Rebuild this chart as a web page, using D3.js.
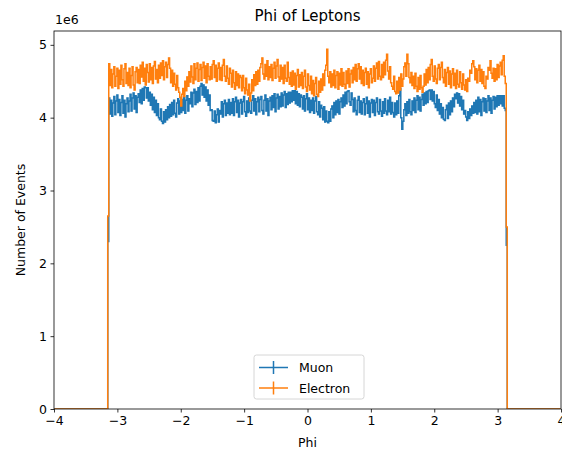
<!DOCTYPE html>
<html>
<head>
<meta charset="utf-8">
<script src="https://cdn.jsdelivr.net/npm/d3@7"></script>
<style>
  body { margin: 0; background: #fff; }
  text { font-family: "DejaVu Sans", sans-serif; fill: #000; }
</style>
</head>
<body>
<svg id="chart" width="562" height="453"></svg>
<script>
// ---- data (counts in units of 1e6), histogram of 500 bins over [-4, 4] ----
const binRange = [-4, 4];
const nBins = 500;
const seriesNames = ["Muon", "Electron"];
const xTicks = [-4, -3, -2, -1, 0, 1, 2, 3, 4];
const yTicks = [0, 1, 2, 3, 4, 5];

// empty bins outside [-pi, pi] (53 on each side)
const zeroBins = [
  0,0,0,0,0,0,0,0,0,0, 0,0,0,0,0,0,0,0,0,0, 0,0,0,0,0,0,0,0,0,0,
  0,0,0,0,0,0,0,0,0,0, 0,0,0,0,0,0,0,0,0,0, 0,0,0
];

const muonCore = [
  4.27, 4.05, 4.24, 4.02, 4.20, 4.29, 4.04, 4.23, 4.31, 4.07,
  4.25, 4.03, 4.21, 4.30, 4.06, 4.24, 4.01, 4.19, 4.27, 4.08,
  4.23, 4.32, 4.09, 4.27, 4.34, 4.12, 4.30, 4.07, 4.28, 4.33,
  4.21, 4.38, 4.19, 4.40, 4.24, 4.42, 4.41, 4.27, 4.41, 4.23,
  4.35, 4.17, 4.32, 4.11, 4.28, 4.07, 4.24, 4.03, 4.19, 4.00,
  3.97, 4.12, 3.95, 3.92, 4.08, 3.94, 4.11, 3.97, 4.15, 4.00,
  4.18, 4.02, 4.21, 4.04, 4.24, 4.06, 4.01, 4.20, 4.26, 4.05,
  4.23, 4.07, 4.25, 4.10, 4.28, 4.06, 4.24, 4.30, 4.09, 4.26,
  4.19, 4.35, 4.15, 4.34, 4.39, 4.18, 4.36, 4.21, 4.41, 4.23,
  4.43, 4.47, 4.31, 4.45, 4.28, 4.42, 4.23, 4.38, 4.17, 4.31,
  4.10, 4.11, 3.96, 3.95, 4.09, 3.93, 4.04, 4.12, 3.94, 4.10,
  4.05, 4.22, 4.01, 4.19, 4.24, 4.03, 4.20, 4.06, 4.25, 4.04,
  4.21, 4.06, 4.26, 4.03, 4.22, 4.28, 4.07, 4.24, 4.01, 4.20,
  4.25, 4.05, 4.22, 4.29, 4.08, 4.02, 4.23, 4.07, 4.27, 4.09,
  4.06, 4.24, 4.30, 4.09, 4.26, 4.04, 4.22, 4.28, 4.08, 4.25,
  4.29, 4.10, 4.05, 4.24, 4.31, 4.09, 4.26, 4.03, 4.23, 4.28,
  4.11, 4.30, 4.14, 4.33, 4.08, 4.27, 4.32, 4.12, 4.29, 4.15,
  4.34, 4.16, 4.31, 4.36, 4.14, 4.33, 4.18, 4.35, 4.20, 4.35,
  4.22, 4.37, 4.24, 4.37, 4.19, 4.36, 4.17, 4.33, 4.15, 4.31,
  4.28, 4.12, 4.30, 4.09, 4.26, 4.33, 4.11, 4.27, 4.07, 4.24,
  4.10, 4.27, 4.06, 4.23, 4.29, 4.08, 4.04, 4.22, 4.01, 4.17,
  4.13, 3.97, 4.15, 3.94, 4.09, 3.95, 3.93, 4.08, 3.95, 4.12,
  4.16, 4.00, 4.21, 4.04, 4.23, 4.07, 4.25, 4.05, 4.22, 4.27,
  4.14, 4.31, 4.16, 4.35, 4.19, 4.36, 4.37, 4.22, 4.17, 4.34,
  4.25, 4.08, 4.27, 4.10, 4.04, 4.24, 4.29, 4.07, 4.23, 4.05,
  4.21, 4.26, 4.04, 4.19, 4.28, 4.06, 4.23, 4.01, 4.20, 4.25,
  4.07, 4.24, 4.03, 4.21, 4.27, 4.08, 4.05, 4.25, 4.09, 4.02,
  4.22, 4.06, 4.26, 4.09, 4.04, 4.24, 4.08, 4.28, 4.05, 4.21,
  4.07, 4.01, 4.20, 4.04, 4.23, 4.06, 4.30, 4.40, 4.00, 3.84,
  3.95, 4.11, 4.19, 4.03, 4.22, 4.06, 4.25, 4.08, 4.04, 4.23,
  4.10, 4.27, 4.07, 4.24, 4.30, 4.11, 4.28, 4.09, 4.25, 4.32,
  4.17, 4.34, 4.19, 4.36, 4.21, 4.37, 4.38, 4.25, 4.38, 4.23,
  4.36, 4.19, 4.14, 4.31, 4.10, 4.25, 4.05, 4.19, 4.00, 4.14,
  3.98, 3.96, 4.11, 4.17, 3.99, 4.20, 4.04, 4.23, 4.08, 4.27,
  4.15, 4.32, 4.26, 4.34, 4.20, 4.33, 4.16, 4.29, 4.11, 4.24,
  4.05, 4.10, 4.01, 3.96, 4.08, 3.99, 4.12, 4.03, 4.16, 4.06,
  4.21, 4.07, 4.24, 4.05, 4.28, 4.08, 4.25, 4.03, 4.22, 4.27,
  4.09, 4.26, 4.07, 4.23, 4.30, 4.10, 4.27, 4.06, 4.24, 4.29,
  4.12, 4.28, 4.15, 4.30, 4.17, 4.30, 4.19, 4.30, 4.16, 4.30,
  4.13, 4.10
];
const muonEdge = [2.30, 2.25];

const electronCore = [
  4.74, 4.44, 4.66, 4.41, 4.60, 4.70, 4.43, 4.57, 4.68, 4.40,
  4.65, 4.46, 4.72, 4.52, 4.43, 4.67, 4.74, 4.47, 4.62, 4.44,
  4.68, 4.41, 4.58, 4.70, 4.45, 4.38, 4.63, 4.69, 4.48, 4.66,
  4.47, 4.72, 4.56, 4.76, 4.50, 4.68, 4.45, 4.73, 4.62, 4.49,
  4.74, 4.52, 4.69, 4.47, 4.71, 4.77, 4.53, 4.66, 4.48, 4.72,
  4.54, 4.75, 4.58, 4.78, 4.52, 4.70, 4.76, 4.55, 4.73, 4.82,
  4.68, 4.48, 4.65, 4.43, 4.61, 4.46, 4.38, 4.58, 4.41, 4.35,
  4.28, 4.16, 4.32, 4.40, 4.29, 4.50, 4.37, 4.56, 4.43, 4.63,
  4.49, 4.71, 4.56, 4.47, 4.74, 4.52, 4.68, 4.75, 4.50, 4.66,
  4.73, 4.51, 4.69, 4.76, 4.54, 4.71, 4.48, 4.74, 4.57, 4.52,
  4.70, 4.53, 4.73, 4.78, 4.55, 4.72, 4.50, 4.68, 4.75, 4.52,
  4.69, 4.51, 4.72, 4.80, 4.57, 4.50, 4.71, 4.54, 4.46, 4.68,
  4.61, 4.42, 4.65, 4.48, 4.39, 4.63, 4.44, 4.60, 4.41, 4.58,
  4.55, 4.37, 4.58, 4.41, 4.33, 4.54, 4.38, 4.31, 4.46, 4.23,
  4.34, 4.52, 4.37, 4.59, 4.44, 4.63, 4.46, 4.65, 4.50, 4.69,
  4.74, 4.82, 4.60, 4.53, 4.73, 4.57, 4.78, 4.52, 4.70, 4.55,
  4.73, 4.51, 4.68, 4.76, 4.54, 4.71, 4.80, 4.56, 4.50, 4.72,
  4.53, 4.69, 4.47, 4.72, 4.54, 4.50, 4.76, 4.55, 4.46, 4.62,
  4.43, 4.64, 4.45, 4.61, 4.39, 4.58, 4.66, 4.42, 4.59, 4.44,
  4.62, 4.40, 4.57, 4.65, 4.42, 4.36, 4.60, 4.44, 4.38, 4.57,
  4.33, 4.51, 4.30, 4.47, 4.55, 4.32, 4.29, 4.50, 4.35, 4.53,
  4.38, 4.60, 4.44, 4.65, 4.72, 4.94, 4.57, 4.48, 4.63, 4.42,
  4.60, 4.44, 4.65, 4.41, 4.58, 4.63, 4.39, 4.61, 4.45, 4.67,
  4.43, 4.62, 4.46, 4.40, 4.64, 4.47, 4.67, 4.42, 4.60, 4.65,
  4.48, 4.69, 4.52, 4.73, 4.50, 4.67, 4.74, 4.53, 4.70, 4.47,
  4.65, 4.44, 4.62, 4.68, 4.46, 4.63, 4.41, 4.60, 4.67, 4.48,
  4.54, 4.71, 4.50, 4.68, 4.75, 4.53, 4.77, 4.57, 4.52, 4.73,
  4.55, 4.76, 4.59, 4.79, 4.87, 4.64, 4.53, 4.70, 4.48, 4.43,
  4.39, 4.57, 4.36, 4.33, 4.50, 4.34, 4.55, 4.38, 4.60, 4.43,
  4.53, 4.70, 4.75, 4.57, 4.87, 4.74, 4.55, 4.48, 4.62, 4.44,
  4.57, 4.40, 4.61, 4.43, 4.36, 4.55, 4.39, 4.58, 4.41, 4.35,
  4.43, 4.60, 4.45, 4.66, 4.48, 4.69, 4.52, 4.73, 4.80, 4.57,
  4.50, 4.71, 4.53, 4.47, 4.68, 4.73, 4.52, 4.69, 4.76, 4.55,
  4.48, 4.66, 4.43, 4.62, 4.69, 4.46, 4.64, 4.41, 4.60, 4.67,
  4.44, 4.61, 4.40, 4.65, 4.46, 4.42, 4.63, 4.48, 4.39, 4.60,
  4.45, 4.38, 4.52, 4.36, 4.54, 4.50, 4.65, 4.61, 4.74, 4.78,
  4.70, 4.52, 4.67, 4.48, 4.65, 4.72, 4.50, 4.66, 4.47, 4.63,
  4.43, 4.40, 4.57, 4.53, 4.69, 4.65, 4.78, 4.61, 4.54, 4.68,
  4.50, 4.67, 4.52, 4.73, 4.55, 4.71, 4.76, 4.59, 4.79, 4.85,
  4.57, 4.47
];
const electronEdge = [2.65, 2.50];

const muonCounts = [...zeroBins, muonEdge[0], ...muonCore, muonEdge[1], ...zeroBins];
const electronCounts = [...zeroBins, electronEdge[0], ...electronCore, electronEdge[1], ...zeroBins];

const colors = ["#1f77b4", "#ff7f0e"];

// ---- layout ----
const W = 562, H = 453;
const m = { left: 54, right: 1, top: 31, bottom: 44 };
const svg = d3.select("#chart");

const x = d3.scaleLinear().domain([-4, 4]).range([m.left, W - m.right]);
const y = d3.scaleLinear().domain([0, 5.19]).range([H - m.bottom, m.top]);

const binW = (binRange[1] - binRange[0]) / nBins;
const centers = d3.range(nBins).map(i => binRange[0] + binW * (i + 0.5));

svg.append("defs").append("clipPath").attr("id", "clip")
  .append("rect").attr("x", m.left).attr("y", m.top)
  .attr("width", W - m.left - m.right).attr("height", H - m.top - m.bottom);

const plot = svg.append("g").attr("clip-path", "url(#clip)");
const line = d3.line().x(d => x(d[0])).y(d => y(d[1])).curve(d3.curveStep);

[muonCounts, electronCounts].forEach((counts, si) => {
  const pts = counts.map((v, i) => [centers[i], v]);
  const g = plot.append("g");
  g.append("path").datum(pts).attr("d", line)
    .attr("fill", "none").attr("stroke", colors[si]).attr("stroke-width", 1.5)
    .attr("stroke-linejoin", "miter");
  // error bars: sqrt(N)
  g.selectAll("line.err").data(pts.filter(p => p[1] > 0)).join("line")
    .attr("x1", d => x(d[0])).attr("x2", d => x(d[0]))
    .attr("y1", d => y(d[1] - Math.sqrt(d[1] * 1e6) / 1e6))
    .attr("y2", d => y(d[1] + Math.sqrt(d[1] * 1e6) / 1e6))
    .attr("stroke", colors[si]).attr("stroke-width", 1.5);
});

// ---- axes ----
const xAxis = d3.axisBottom(x).tickValues(xTicks).tickSize(3.5).tickPadding(3.5)
  .tickFormat(d => d < 0 ? "\u2212" + Math.abs(d) : d);
const yAxis = d3.axisLeft(y).tickValues(yTicks).tickSize(3.5).tickPadding(3.5)
  .tickFormat(d3.format("d"));

const gx = svg.append("g").attr("transform", `translate(0,${H - m.bottom})`).call(xAxis);
const gy = svg.append("g").attr("transform", `translate(${m.left},0)`).call(yAxis);
[gx, gy].forEach(g => {
  g.select(".domain").remove();
  g.selectAll(".tick line").attr("stroke", "#000").attr("stroke-width", 0.8);
  g.selectAll(".tick text").attr("font-size", 12.5).attr("font-family", "DejaVu Sans");
});

// spines
svg.append("rect").attr("x", m.left).attr("y", m.top)
  .attr("width", W - m.left - m.right).attr("height", H - m.top - m.bottom)
  .attr("fill", "none").attr("stroke", "#000").attr("stroke-width", 0.8);

// texts
svg.append("text").attr("x", (m.left + W - m.right) / 2).attr("y", 21)
  .attr("text-anchor", "middle").attr("font-size", 15).text("Phi of Leptons");
svg.append("text").attr("x", m.left + 1).attr("y", 24)
  .attr("font-size", 12.5).text("1e6");
svg.append("text").attr("x", (m.left + W - m.right) / 2).attr("y", 447)
  .attr("text-anchor", "middle").attr("font-size", 12.5).text("Phi");
svg.append("text").attr("transform", `translate(25,${(m.top + H - m.bottom) / 2}) rotate(-90)`)
  .attr("text-anchor", "middle").attr("font-size", 12.5).text("Number of Events");

// legend
const lg = svg.append("g").attr("transform", "translate(254,355)");
lg.append("rect").attr("width", 110).attr("height", 44).attr("rx", 2.5)
  .attr("fill", "#fff").attr("fill-opacity", 0.8)
  .attr("stroke", "#ccc").attr("stroke-width", 0.8);
seriesNames.forEach((name, i) => {
  const cy = 12.5 + i * 20.5;
  lg.append("line").attr("x1", 5).attr("x2", 34).attr("y1", cy).attr("y2", cy)
    .attr("stroke", colors[i]).attr("stroke-width", 1.5);
  lg.append("line").attr("x1", 19.5).attr("x2", 19.5).attr("y1", cy - 6.5).attr("y2", cy + 6.5)
    .attr("stroke", colors[i]).attr("stroke-width", 1.5);
  lg.append("text").attr("x", 45).attr("y", cy + 4.5).attr("font-size", 12.5).text(name);
});
</script>
</body>
</html>
